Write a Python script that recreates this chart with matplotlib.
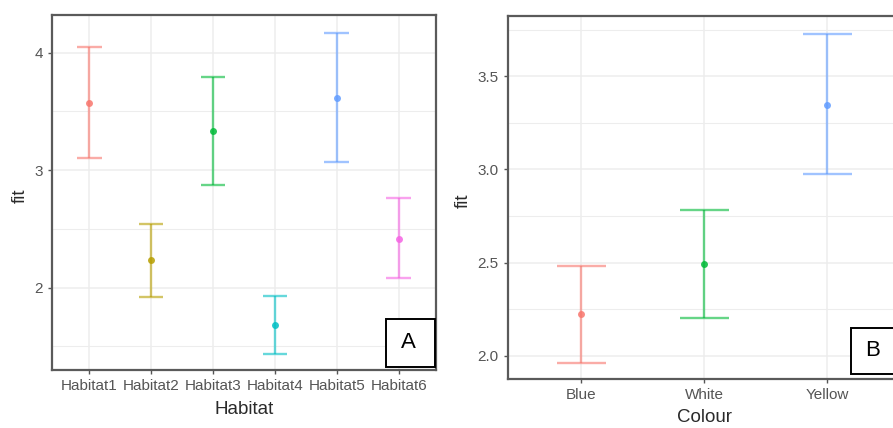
import matplotlib.pyplot as plt
import matplotlib.patches as patches
import numpy as np

# ggplot2 default hue palette
HUE6 = ['#F8766D', '#B79F00', '#00BA38', '#00BFC4', '#619CFF', '#F564E3']
HUE3 = ['#F8766D', '#00BA38', '#619CFF']

BORDER = '#5a5a5a'
GRID = '#ededed'
TICK_TEXT = '#555555'
TITLE_TEXT = '#2a2a2a'

# Panel A: fitted values by habitat with confidence limits
habitats = ['Habitat1', 'Habitat2', 'Habitat3', 'Habitat4', 'Habitat5', 'Habitat6']
hab_fit = [3.575, 2.238, 3.336, 1.683, 3.615, 2.414]
hab_lower = [3.100, 1.920, 2.873, 1.439, 3.068, 2.082]
hab_upper = [4.050, 2.546, 3.790, 1.932, 4.167, 2.762]

# Panel B: fitted values by colour with confidence limits
colours = ['Blue', 'White', 'Yellow']
col_fit = [2.222, 2.491, 3.349]
col_lower = [1.959, 2.204, 2.978]
col_upper = [2.484, 2.781, 3.729]

plt.rcParams['font.family'] = ['Liberation Sans', 'DejaVu Sans']


def effect_panel(ax, cats, fit, lower, upper, palette, ylim, major, minor, fmt, xlabel):
    x = np.arange(1, len(cats) + 1)
    for xi, f, lo, hi, c in zip(x, fit, lower, upper, palette):
        ax.vlines(xi, lo, hi, color=c, lw=1.7, alpha=0.6, zorder=3)
        ax.hlines([lo, hi], xi - 0.2, xi + 0.2, color=c, lw=1.7, alpha=0.6, zorder=3)
        ax.plot(xi, f, 'o', color=c, ms=5, mec='none', alpha=0.85, zorder=4)

    ax.set_xlim(0.4, len(cats) + 0.6)
    ax.set_ylim(*ylim)
    ax.set_xticks(x)
    ax.set_xticklabels(cats)
    ax.set_yticks(major)
    ax.set_yticklabels([fmt.format(v) for v in major])
    ax.set_yticks(minor, minor=True)
    ax.tick_params(which='minor', length=0)
    ax.tick_params(which='major', length=3, width=1, color='#555555',
                   labelsize=11, labelcolor=TICK_TEXT, pad=3.5)

    ax.grid(which='major', color=GRID, lw=1.1, zorder=0)
    ax.grid(which='minor', axis='y', color=GRID, lw=0.8, zorder=0)
    ax.set_axisbelow(True)
    for s in ax.spines.values():
        s.set_color(BORDER)
        s.set_linewidth(1.6)

    ax.set_xlabel(xlabel, fontsize=13.5, color=TITLE_TEXT)
    ax.set_ylabel('fit', fontsize=13.5, color=TITLE_TEXT)
    ax.xaxis.label.set_va('center')
    ax.yaxis.label.set_va('center')


fig = plt.figure(figsize=(8.93, 4.28), dpi=100)

ax_a = fig.add_axes([0.0582, 0.1355, 0.430, 0.8294])
effect_panel(ax_a, habitats, hab_fit, hab_lower, hab_upper, HUE6,
             (1.30, 4.32), [2, 3, 4], [1.5, 2.5, 3.5], '{:g}', 'Habitat')
ax_a.xaxis.set_label_coords(0.5, -0.11)
ax_a.yaxis.set_label_coords(-0.083, 0.49)

# right panel runs past the figure edge
ax_b = fig.add_axes([0.5685, 0.1145, 0.4407, 0.848])
effect_panel(ax_b, colours, col_fit, col_lower, col_upper, HUE3,
             (1.875, 3.824), [2.0, 2.5, 3.0, 3.5], [2.25, 2.75, 3.25, 3.75], '{:.1f}', 'Colour')
ax_b.xaxis.set_label_coords(0.5, -0.107)
ax_b.yaxis.set_label_coords(-0.114, 0.49)

# panel letters in boxes
for (x0, y0, w, h), letter in [((0.4323, 0.1432, 0.0549, 0.1114), 'A'),
                               ((0.9527, 0.1255, 0.0549, 0.1089), 'B')]:
    fig.add_artist(patches.Rectangle((x0, y0), w, h, transform=fig.transFigure,
                                     facecolor='white', edgecolor='black', lw=1.4, zorder=10))
    fig.text(x0 + w * 0.45, y0 + h / 2, letter, fontsize=16, ha='center', va='center',
             color='black', zorder=11)

fig.savefig('out.png', dpi=100, facecolor='white')
